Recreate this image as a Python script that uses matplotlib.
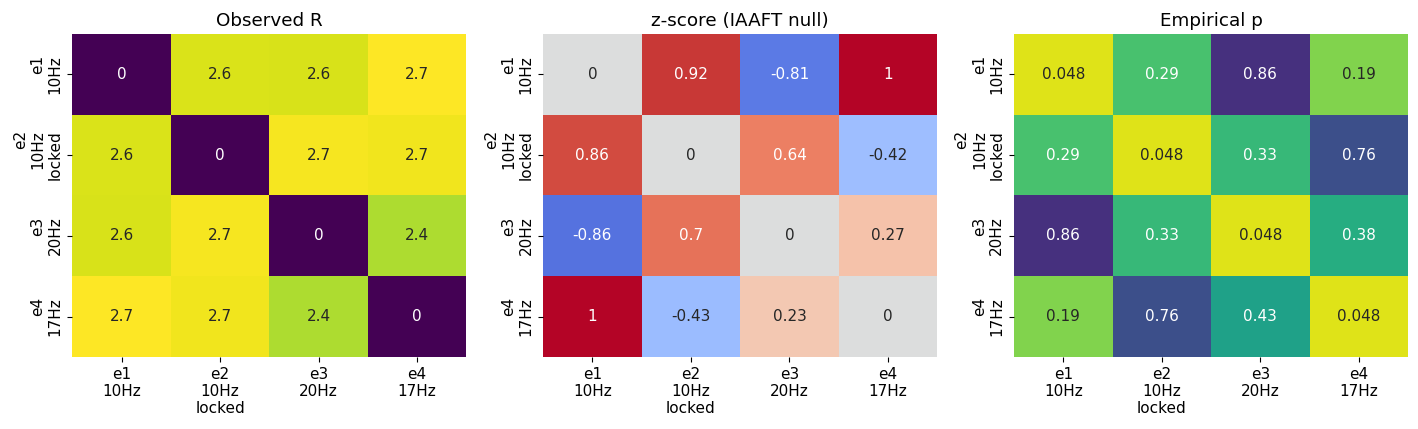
import numpy as np
import matplotlib
matplotlib.use("Agg")
import matplotlib.pyplot as plt
import seaborn as sns

plt.rcParams["font.size"] = 11

# channel labels
labels = ["e1\n10Hz", "e2\n10Hz\nlocked", "e3\n20Hz", "e4\n17Hz"]

# observed R
observed_r = [
    [0.00, 2.57, 2.56, 2.72],
    [2.57, 0.00, 2.68, 2.66],
    [2.56, 2.68, 0.00, 2.39],
    [2.72, 2.66, 2.39, 0.00],
]

# z-score against IAAFT surrogates
z_score = [
    [0.00, 0.92, -0.81, 1.04],
    [0.86, 0.00, 0.64, -0.42],
    [-0.86, 0.70, 0.00, 0.27],
    [1.04, -0.43, 0.23, 0.00],
]

# empirical p-values
emp_p = [
    [0.048, 0.29, 0.86, 0.19],
    [0.29, 0.048, 0.33, 0.76],
    [0.86, 0.33, 0.048, 0.38],
    [0.19, 0.76, 0.43, 0.048],
]

fig, axes = plt.subplots(1, 3, figsize=(14.18, 4.29))

sns.heatmap(np.array(observed_r), ax=axes[0], annot=True, cmap="viridis",
            cbar=False, xticklabels=labels, yticklabels=labels)
axes[0].set_title("Observed R")

sns.heatmap(np.array(z_score), ax=axes[1], annot=True, cmap="coolwarm",
            center=0, cbar=False, xticklabels=labels, yticklabels=labels)
axes[1].set_title("z-score (IAAFT null)")

sns.heatmap(np.array(emp_p), ax=axes[2], annot=True, cmap="viridis_r",
            vmin=0, vmax=1, cbar=False, xticklabels=labels, yticklabels=labels)
axes[2].set_title("Empirical p")

for ax in axes:
    plt.setp(ax.get_xticklabels(), rotation=0)
    plt.setp(ax.get_yticklabels(), rotation=90, va="center")

plt.subplots_adjust(left=0.051, right=0.993, top=0.921, bottom=0.168, wspace=0.195)
plt.savefig("out.png", dpi=100)
